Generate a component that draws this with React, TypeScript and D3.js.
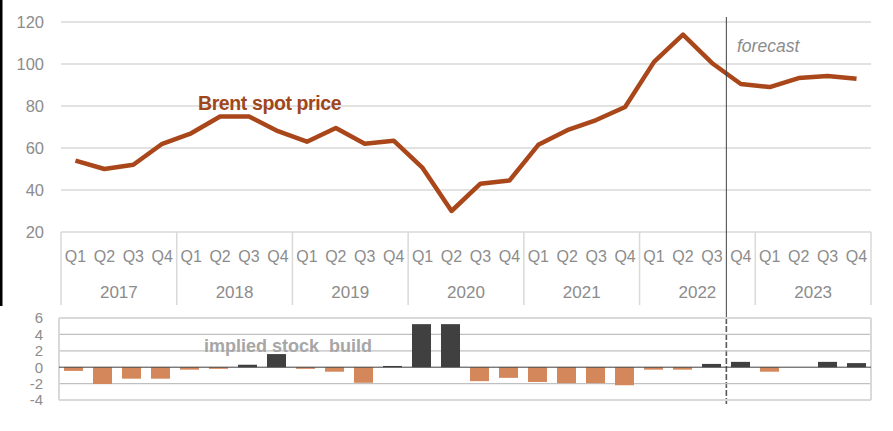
import * as d3 from 'd3';

const years = ['2017', '2018', '2019', '2020', '2021', '2022', '2023'];
const quarters = ['Q1', 'Q2', 'Q3', 'Q4'];
const brent = [
  54, 50, 52, 62, 67, 75, 75, 68, 63, 69.5, 62, 63.5, 50.5, 30, 43, 44.5, 61.5, 68.5, 73.3, 79.5, 101,
  114, 100.5, 90.5, 89, 93.3, 94.3, 93,
];
const stockBuild = [
  -0.45, -2.05, -1.4, -1.4, -0.3, -0.2, 0.3, 1.6, -0.2, -0.55, -1.9, 0.15, 5.25, 5.25, -1.7, -1.3,
  -1.8, -1.95, -1.95, -2.2, -0.3, -0.3, 0.4, 0.65, -0.55, 0, 0.65, 0.5,
];
const priceTicks = [20, 40, 60, 80, 100, 120];
const buildTicks = [-4, -2, 0, 2, 4, 6];
const forecastStart = 23;

const W = 893;
const H = 431;
const FONT = '"Liberation Sans", Arial, sans-serif';
const GRAY_TEXT = '#8c8c8c';
const GRID = '#d9d9d9';

const App = () => {
  const cats = years.flatMap((y) => quarters.map((q) => `${y} ${q}`));
  const idx = d3.range(cats.length);

  // top panel
  const xTop = d3.scaleBand<number>().domain(idx).range([61, 871]);
  const yTop = d3.scaleLinear().domain([20, 120]).range([232, 22]);
  const line = d3
    .line<number>()
    .x((_, i) => xTop(i)! + xTop.bandwidth() / 2)
    .y((d) => yTop(d));

  // bottom panel
  const xBotCell = d3.scaleBand<number>().domain(idx).range([59, 871]);
  const yBot = d3.scaleLinear().domain([-4, 6]).range([400, 318]);

  const forecastX = xTop(forecastStart)!;
  const yearW = xTop.bandwidth() * 4;

  return (
    <svg width={W} height={H} style={{position: 'absolute', left: 0, top: 0, background: '#fff'}} fontFamily={FONT}>
      <rect x={0} y={0} width={2.5} height={306} fill='#000' />

      {/* price gridlines */}
      {priceTicks.map((t) => (
        <g key={t}>
          <line x1={61} x2={871} y1={yTop(t)} y2={yTop(t)} stroke={GRID} strokeWidth={1.5} />
          <text x={44} y={yTop(t)} dy='0.36em' textAnchor='end' fontSize={16.5} fill={GRAY_TEXT}>
            {t}
          </text>
        </g>
      ))}

      {/* category axis */}
      {d3.range(years.length + 1).map((i) => (
        <line
          key={i}
          x1={61 + i * yearW}
          x2={61 + i * yearW}
          y1={232}
          y2={305}
          stroke={GRID}
          strokeWidth={1.5}
        />
      ))}
      {idx.map((i) => (
        <text
          key={i}
          x={xTop(i)! + xTop.bandwidth() / 2}
          y={262}
          textAnchor='middle'
          fontSize={16}
          fill={GRAY_TEXT}
        >
          {quarters[i % 4]}
        </text>
      ))}
      {years.map((y, i) => (
        <text key={y} x={61 + (i + 0.5) * yearW} y={298} textAnchor='middle' fontSize={17} fill={GRAY_TEXT}>
          {y}
        </text>
      ))}

      <path d={line(brent)!} fill='none' stroke='#a9471b' strokeWidth={4.5} strokeLinejoin='round' />
      <text x={198} y={110} fontSize={19.5} fontWeight='bold' fill='#a0461b' letterSpacing={-0.4}>
        Brent spot price
      </text>

      {/* forecast marker */}
      <line x1={forecastX} x2={forecastX} y1={17} y2={318} stroke='#404040' strokeWidth={1} />
      <line
        x1={forecastX}
        x2={forecastX}
        y1={318}
        y2={405}
        stroke='#595959'
        strokeWidth={1.6}
        strokeDasharray='6 2'
      />
      <text x={737} y={52} fontSize={17.5} fontStyle='italic' fill={GRAY_TEXT}>
        forecast
      </text>

      {/* stock build panel */}
      {buildTicks.map((t) => (
        <g key={t}>
          {t !== 0 && (
            <line
              x1={59}
              x2={871}
              y1={yBot(t)}
              y2={yBot(t)}
              stroke={t === 6 || t === -4 ? GRID : '#c0c0c0'}
              strokeWidth={t === 6 || t === -4 ? 2 : 1.2}
            />
          )}
          <text x={43} y={yBot(t)} dy='0.36em' textAnchor='end' fontSize={15} fill={GRAY_TEXT}>
            {t}
          </text>
        </g>
      ))}
      <line x1={59} x2={59} y1={318} y2={400} stroke={GRID} strokeWidth={2} />
      <line x1={871} x2={871} y1={318} y2={400} stroke={GRID} strokeWidth={2} />
      {stockBuild.map((v, i) => (
        <rect
          key={cats[i]}
          x={xBotCell(i)! + (xBotCell.bandwidth() - 19) / 2}
          width={19}
          y={yBot(Math.max(0, v))}
          height={Math.abs(yBot(v) - yBot(0))}
          fill={v >= 0 ? '#404040' : '#d4875a'}
        />
      ))}
      <line x1={59} x2={871} y1={yBot(0)} y2={yBot(0)} stroke='#404040' strokeWidth={1} />
      <text x={204} y={352} fontSize={18} fontWeight='bold' fill='#a6a6a6' xmlSpace='preserve'>
        implied stock  build
      </text>
    </svg>
  );
};

export default App;
